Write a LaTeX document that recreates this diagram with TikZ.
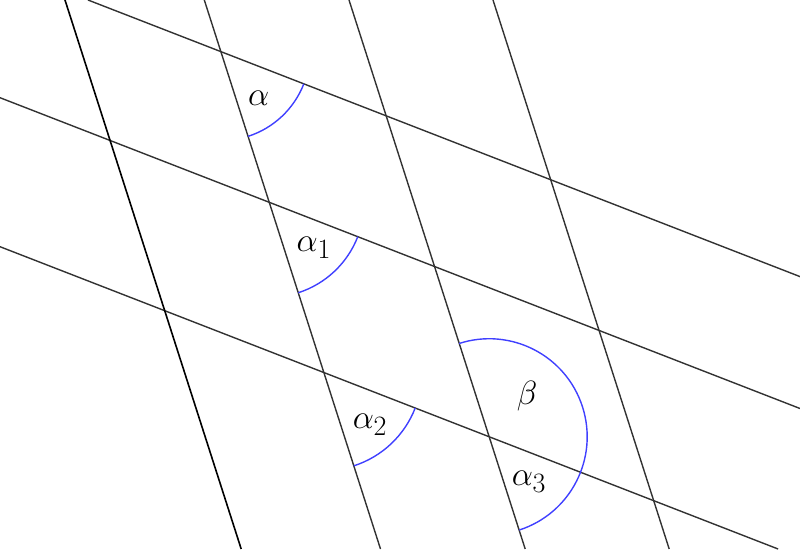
\documentclass[tikz,border=0pt]{standalone}
\definecolor{linegray}{RGB}{50,50,50}
\definecolor{arcblue}{RGB}{64,64,255}
\newcommand{\biglbl}[1]{\scalebox{1.35}{$#1$}}
\begin{document}
\begin{tikzpicture}[x=1pt,y=-1pt,
  gline/.style={draw=linegray, line width=1.4pt},
  bline/.style={draw=black, line width=1.6pt},
  anglearc/.style={draw=arcblue, line width=1.4pt},
  lbl/.style={font=\fontsize{24.88}{30}\selectfont, inner sep=0pt}]
\useasboundingbox (0,0) rectangle (800,549);
\clip (0,0) rectangle (800,549);
% steep lines
\coordinate (At) at (65,0);    \coordinate (Ab) at (241.2,549);
\coordinate (Bt) at (204.3,0); \coordinate (Bb) at (380.5,549);
\coordinate (Ct) at (349,0);   \coordinate (Cb) at (525.2,549);
\coordinate (Dt) at (493,0);   \coordinate (Db) at (669.2,549);
% shallow lines
\coordinate (Pl) at (88.0,0);  \coordinate (Pr) at (800,276.6);
\coordinate (Ql) at (0,97.7);  \coordinate (Qr) at (800,408.5);
\coordinate (Rl) at (0,246.7); \coordinate (Rr) at (778.1,549);
\draw[gline] (Pl) -- (Pr);
\draw[gline] (Ql) -- (Qr);
\draw[gline] (Rl) -- (Rr);
\draw[bline] (At) -- (Ab);
\draw[gline] (Bt) -- (Bb);
\draw[gline] (Ct) -- (Cb);
\draw[gline] (Dt) -- (Db);
% vertices
\coordinate (VBP) at (intersection of Bt--Bb and Pl--Pr);
\coordinate (VBQ) at (intersection of Bt--Bb and Ql--Qr);
\coordinate (VBR) at (intersection of Bt--Bb and Rl--Rr);
\coordinate (VCR) at (intersection of Ct--Cb and Rl--Rr);
% angle arcs
\draw[anglearc] (VBP) ++(-21.23:89pt) arc[start angle=-21.23, end angle=-72.15, radius=89pt];
\draw[anglearc] (VBQ) ++(-21.23:95pt) arc[start angle=-21.23, end angle=-72.15, radius=95pt];
\draw[anglearc] (VBR) ++(-21.23:98pt) arc[start angle=-21.23, end angle=-72.15, radius=98pt];
\draw[anglearc] (VCR) ++(107.85:98pt) arc[start angle=107.85, end angle=-72.15, radius=98pt];
% labels
\node[lbl] (la)  at (258.7,98.2)  {\biglbl{\alpha}};
\node[lbl] (la1) at (313.8,248)   {\biglbl{\alpha_1}};
\node[lbl] (la2) at (370,424.7)   {\biglbl{\alpha_2}};
\node[lbl] (la3) at (529,481.7)   {\biglbl{\alpha_3}};
\node[lbl] (lb)  at (527,396.3)   {\biglbl{\beta}};
\end{tikzpicture}
\end{document}
